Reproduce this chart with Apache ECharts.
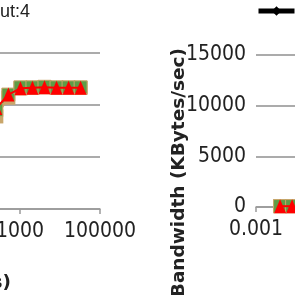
<!DOCTYPE html>
<html><head><meta charset="utf-8">
<script src="https://cdn.jsdelivr.net/npm/echarts@6/dist/echarts.min.js"></script>
<style>html,body{margin:0;padding:0;background:#fff}#c{width:295px;height:295px}</style>
</head><body><div id="c"></div>
<script>
// ---- data ----
const leftSizes = [256, 512, 1024, 2048, 4096, 8192, 16384, 32768];
const blackLeft = [9300, 10900, 11700, 11750, 11800, 11750, 11750, 11750];
const tanLeft   = [8900, 10700, 11600, 11650, 11700, 11650, 11650, 11650];
const greenLeft = [9500, 11000, 11700, 11700, 11750, 11700, 11700, 11700];
const redLeft   = [9700, 11000, 11600, 11650, 11700, 11650, 11650, 11650];
const rightX = [0.004, 0.008];
const blackRight = [70, 70];
const tanRight   = [70, 70];
const greenRight = [90, 90];
const redRight   = [80, 80];
const seriesNames = ['Series 1', 'Series 2', 'Series 3', 'Series 4'];
const yMax = 15000, yStep = 5000;
const logMin = -3, logMax = 5, logStep = 2;
const titleText = 'ut:4';
const xNameFragment = 's)';
const yName = 'Bandwidth (KBytes/sec)';

// ---- chart ----
const FONT = "'Liberation Sans Narrow','DejaVu Sans Condensed',sans-serif";
const BOLD = "bold 18.5px 'DejaVu Sans',sans-serif";
const pts = (xs, ys) => xs.map((x, i) => [Math.log10(x), ys[i]]);
const tickFmt = v => String(Number(Math.pow(10, v).toPrecision(1)));
const gridLine = {show: true, lineStyle: {color: '#8f8f8f', width: 1.5}};
function xAxis(gi) {
  return {type: 'value', gridIndex: gi, min: logMin, max: logMax, interval: logStep,
    axisLine: {show: true, lineStyle: {color: '#9a9a9a', width: 1.5}},
    axisTick: {show: true, length: 5, lineStyle: {color: '#9a9a9a', width: 1.5}},
    axisLabel: {formatter: tickFmt, fontFamily: FONT, fontSize: 21, color: '#222', margin: 12, hideOverlap: false},
    splitLine: {show: false}};
}
function yAxis(gi, showLabels) {
  return {type: 'value', gridIndex: gi, min: 0, max: yMax, interval: yStep,
    axisLine: {show: true, lineStyle: {color: '#c8c8c8', width: 1}},
    axisTick: {show: true, length: 5, lineStyle: {color: '#8f8f8f', width: 1.5}},
    axisLabel: {show: showLabels, formatter: v => String(v), fontFamily: FONT, fontSize: 21, color: '#222', margin: 10},
    splitLine: gridLine};
}
const styles = [
  {symbol: 'diamond', symbolSize: [9, 12], color: '#000', lw: 4},
  {symbol: 'rect', symbolSize: 14, color: '#C9A66B', lw: 2},
  {symbol: 'rect', symbolSize: 13, color: '#5E9C46', lw: 2},
  {symbol: 'triangle', symbolSize: [12, 14], color: '#FF0000', lw: 2}
];
const leftData = [blackLeft, tanLeft, greenLeft, redLeft];
const rightData = [blackRight, tanRight, greenRight, redRight];
const series = [];
[0, 1].forEach(gi => {
  styles.forEach((s, k) => {
    series.push({
      type: 'line', name: seriesNames[k], xAxisIndex: gi, yAxisIndex: gi,
      data: gi === 0 ? pts(leftSizes, leftData[k]) : pts(rightX, rightData[k]),
      symbol: s.symbol, symbolSize: s.symbolSize, showAllSymbol: true,
      itemStyle: {color: s.color, borderColor: k === 2 ? '#C9A66B' : s.color, borderWidth: k === 2 ? 1 : 0},
      lineStyle: {color: s.color, width: s.lw}, z: 2 + k, animation: false
    });
  });
});
const chart = echarts.init(document.getElementById('c'), null, {renderer: 'canvas'});
chart.setOption({
  animation: false,
  backgroundColor: '#fff',
  grid: [
    {left: -220, top: 53, width: 320, height: 156, containLabel: false, outerBoundsMode: 'none'},
    {left: 256, top: 55, width: 320, height: 152, containLabel: false, outerBoundsMode: 'none'}
  ],
  xAxis: [xAxis(0), xAxis(1)],
  yAxis: [yAxis(0, false), yAxis(1, true)],
  legend: {left: 256, top: 5, padding: 0, itemWidth: 36, itemHeight: 12, itemGap: 20, orient: 'horizontal', width: 2000,
    lineStyle: {width: 5}, data: seriesNames, textStyle: {fontFamily: FONT, fontSize: 12}},
  series: series,
  graphic: [
    {type: 'text', left: 0, top: 3, style: {text: titleText, font: "18px 'Liberation Sans',sans-serif", fill: '#222'}},
    {type: 'text', x: 11, y: 283, style: {text: xNameFragment, font: BOLD, fill: '#222', align: 'right', verticalAlign: 'middle'}},
    {type: 'text', x: 179, y: 48, rotation: Math.PI / 2, style: {text: yName, font: BOLD, fill: '#222', align: 'right', verticalAlign: 'middle'}}
  ]
});
</script></body></html>
